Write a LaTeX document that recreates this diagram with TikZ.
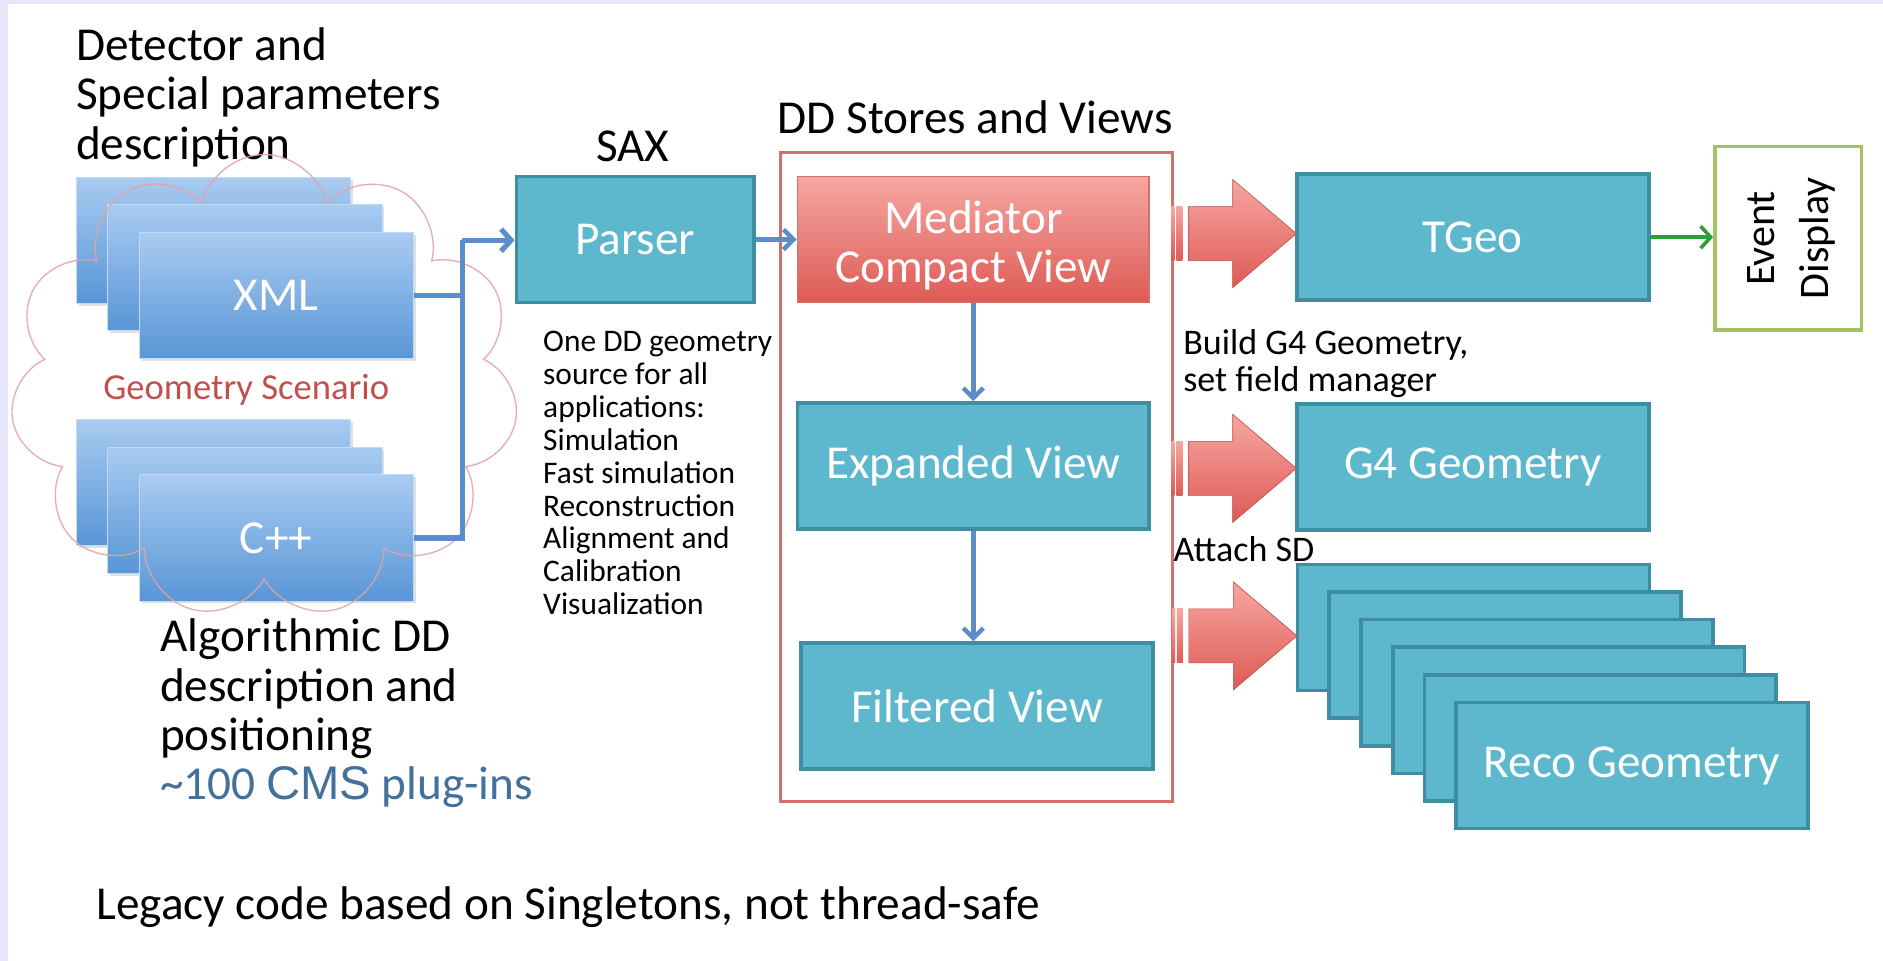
\documentclass[tikz,border=0pt]{standalone}
\usepackage{fontspec}
\setmainfont{Carlito}
\newfontfamily\arialfont{Liberation Sans}
\usepackage{tikz}
\usetikzlibrary{arrows.meta,positioning,shapes.symbols,shadows,calc}
\definecolor{ddlav}{HTML}{E6E6F8}
\definecolor{ddteal}{HTML}{5DB8CD}
\definecolor{ddtealdk}{HTML}{3F8DA3}
\definecolor{ddbluehi}{HTML}{A9CBF1}
\definecolor{ddbluelo}{HTML}{5896D6}
\definecolor{ddredhi}{HTML}{F6A7A2}
\definecolor{ddredlo}{HTML}{DE5A55}
\definecolor{ddframe}{HTML}{D4706C}
\definecolor{ddlink}{HTML}{5C8DCB}
\definecolor{ddgreen}{HTML}{2E9E3A}
\definecolor{ddolive}{HTML}{A3C160}
\definecolor{ddscen}{HTML}{C0504D}
\definecolor{ddcloud}{HTML}{E3A3A3}
\definecolor{ddplug}{HTML}{41719C}
\tikzset{
  bigtxt/.style={font=\fontsize{23.6}{24.6}\selectfont},
  midtxt/.style={font=\fontsize{18}{18.6}\selectfont, inner xsep=0pt},
  smalltxt/.style={font=\fontsize{15.7}{16.4}\selectfont, inner xsep=0pt},
  viewbox/.style={draw=ddtealdk, fill=ddteal, line width=1.8pt, minimum width=175.8pt,
    minimum height=63pt, text=white, bigtxt, align=center},
  srcbox/.style={draw=ddbluehi!70!white, line width=0.5pt, top color=ddbluehi,
    bottom color=ddbluelo, minimum width=137pt, minimum height=63pt, text=white, bigtxt,
    drop shadow={shadow xshift=1.2pt, shadow yshift=-1.2pt, opacity=0.25}},
  link/.style={ddlink, line width=2.2pt, -{Straight Barb[length=5pt,width=10pt]}},
  feed/.style={ddlink, line width=2.6pt},
  pics/fatarrow/.style={code={
    \shade[top color=ddredhi, bottom color=ddredlo, draw=ddredlo!85!black, line width=0.3pt]
      (-90,-22.5) -- (-53,-22.5) -- (-53,-45) -- (0,0) -- (-53,45) -- (-53,22.5)
      -- (-90,22.5) -- cycle;
    \shade[top color=ddredhi, bottom color=ddredlo] (-104,-22.5) rectangle (-101.5,22.5);
    \shade[top color=ddredhi, bottom color=ddredlo] (-100,-22.5) rectangle (-95,22.5);
  }},
}

\begin{document}
\begin{tikzpicture}[x=0.6pt, y=-0.6pt]
\useasboundingbox (0,0) rectangle (1568,800);
\fill[white] (0,0) rectangle (1568,800);
\fill[ddlav] (0,0) rectangle (1568,3.5);
\fill[ddlav] (0,0) rectangle (7,800);

% ------------------------------------------------------------- sources
\node[bigtxt, inner xsep=0pt, align=left, anchor=west] (detlbl) at (63,81)
  {Detector and\\Special parameters\\description};
\foreach \k in {0,1}
  \node[srcbox] (xml\k) at ({178+26*\k},{200+23*\k}) {};
\node[srcbox] (xml) at (230,246) {XML};
\foreach \k in {0,1}
  \node[srcbox] (cpp\k) at ({178+26*\k},{402+23*\k}) {};
\node[srcbox] (cpp) at (230,448) {C++};
\node[cloud, cloud puffs=11, cloud ignores aspect, draw=ddcloud, line width=0.7pt,
  minimum width=254pt, minimum height=232pt, opacity=0.85] (scenario) at (220,322) {};
\node[font=\fontsize{18.3}{20}\selectfont, text=ddscen] (scenlbl) at (205,325) {Geometry Scenario};
\node[bigtxt, inner xsep=0pt, align=left, anchor=west] (algolbl) at (133,594)
  {Algorithmic DD\\description and\\positioning\\%
   \textcolor{ddplug}{\textasciitilde100 {\arialfont CMS} plug-ins}};

% ------------------------------------------------------------- parser
\node[bigtxt] (saxlbl) at (527,122) {SAX};
\node[viewbox, minimum width=118.8pt] (parser) at (529,199.5) {Parser};
\node[smalltxt, align=left, anchor=west] (apps) at (452,394)
  {One DD geometry\\source for all\\applications:\\Simulation\\Fast simulation\\%
   Reconstruction\\Alignment and\\Calibration\\Visualization};
\coordinate (merge) at (385,200);
\draw[feed] (xml.east) -| (merge);
\draw[feed] (cpp.east) -| (merge);
\draw[feed, -{Straight Barb[length=5pt,width=11pt]}] (merge) -- (merge -| parser.west);

% ------------------------------------------------------------- stores and views
\node[bigtxt] (ddlbl) at (812,98) {DD Stores and Views};
\node[draw=ddframe, line width=1.5pt, minimum width=195.6pt, minimum height=324pt]
  (stores) at (813,397) {};
\node[viewbox, top color=ddredhi, bottom color=ddredlo, draw=ddframe, line width=0.8pt,
  label={[yshift=-3pt, text=white, bigtxt, align=center]center:Mediator\\Compact View}]
  (mediator) at (810.5,199.5) {};
\node[viewbox] (expanded) at (810.5,388) {Expanded View};
\node[viewbox] (filtered) at (813.5,588) {Filtered View};
\draw[link] (parser.east) -- (mediator.west);
\draw[link] (mediator.south) -- (expanded.north);
\draw[link] (expanded.south) -- (expanded.south |- filtered.north);

% ------------------------------------------------------------- clients
\node[viewbox] (tgeo) at (1226.5,197.5) {TGeo};
\node[viewbox] (g4) at (1226.5,389) {G4 Geometry};
\foreach \k in {0,...,4}
  \node[viewbox] (reco\k) at ({1227+26.4*\k},{522.5+23*\k}) {};
\node[viewbox] (reco) at (1359,637.5) {Reco Geometry};
\node[midtxt, align=left, anchor=west] (g4lbl) at (985,303)
  {Build G4 Geometry,\\set field manager};
\node[midtxt, anchor=west] (sdlbl) at (977,457) {Attach SD};
\pic at ($(tgeo.west)+(1,-3)$) {fatarrow};
\pic at ($(g4.west)+(1,1)$) {fatarrow};
\pic at ($(reco0.west)+(1,7)$) {fatarrow};

\node[draw=ddolive, line width=1.8pt, fill=white, minimum width=73.2pt,
  minimum height=91.8pt] (event) at (1489,198.5) {};
\node[rotate=90, align=center, font=\fontsize{21}{27}\selectfont] (evlbl) at ($(event.center)+(3,0)$)
  {Event\\Display};
\draw[ddgreen, line width=1.8pt, -{Straight Barb[length=5pt,width=11pt]}]
  (tgeo.east) -- (tgeo.east -| event.west);

\node[bigtxt, inner xsep=0pt, anchor=west] (legacy) at (80,755)
  {Legacy code based on Singletons, not thread-safe};
\end{tikzpicture}
\end{document}
